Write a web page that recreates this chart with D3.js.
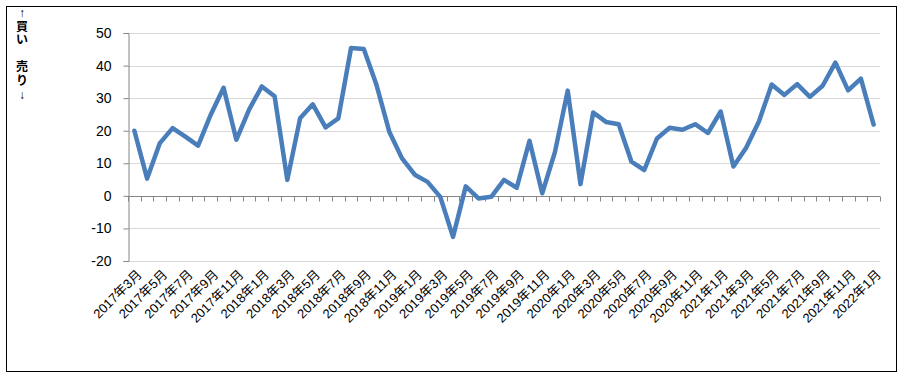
<!DOCTYPE html>
<html><head><meta charset="utf-8">
<script src="https://cdn.jsdelivr.net/npm/d3@7"></script>
<style>
body{margin:0;background:#fff;}
svg text{font-family:"Liberation Sans","Noto Sans CJK JP",sans-serif;}
</style></head>
<body><svg id="c" width="904" height="378"></svg>
<script>
const months = [];
(function(){ let yy=2017,m=3; for(let i=0;i<59;i++){ months.push(yy+"年"+m+"月"); m++; if(m>12){m=1;yy++;} } })();
const values = [20,5.3,16.2,20.8,18.2,15.4,25,33.2,17.2,26.5,33.6,30.6,4.9,23.8,28.1,21,23.8,45.4,45.1,34,19.7,11.5,6.5,4.3,-0.3,-12.6,2.9,-0.8,-0.3,4.9,2.5,16.9,0.8,13.5,32.3,3.6,25.6,22.7,22,10.5,7.9,17.6,20.9,20.3,22,19.3,25.9,9,14.8,22.8,34.2,31,34.3,30.4,33.8,40.9,32.4,36,21.9];
const yTicks = [-20,-10,0,10,20,30,40,50];

(function(){
const svg = d3.select("#c");
svg.append("rect").attr("x",6.5).attr("y",6.5).attr("width",890).attr("height",365)
  .attr("fill","#fff").attr("stroke","#000").attr("stroke-width",1);

const pL=128, pR=880, pT=33, pB=261;
const x = d3.scaleBand().domain(months).range([pL,pR]);
const y = d3.scaleLinear().domain([-20,50]).range([pB,pT]);

svg.append("g").selectAll("line").data(yTicks).join("line")
  .attr("x1",pL).attr("x2",pR)
  .attr("y1",d=>Math.round(y(d))+0.5).attr("y2",d=>Math.round(y(d))+0.5)
  .attr("stroke","#D9D9D9").attr("stroke-width",1);

const ya = svg.append("g").attr("transform",`translate(${pL+0.5},0)`)
  .call(d3.axisLeft(y).tickValues(yTicks).tickSize(5).tickPadding(12).tickFormat(d=>String(d)));
ya.select(".domain").attr("stroke","#868686");
ya.selectAll(".tick line").attr("stroke","#868686");
ya.selectAll(".tick text").attr("font-size",14).attr("fill","#000")
  .attr("font-family","'Liberation Sans',sans-serif");

const y0 = Math.round(y(0))+0.5;
const bounds = months.map(m=>x(m)).concat([pR]);
svg.append("line").attr("x1",pL).attr("x2",pR).attr("y1",y0).attr("y2",y0)
  .attr("stroke","#868686").attr("stroke-width",1);
svg.append("g").selectAll("line").data(bounds).join("line")
  .attr("x1",d=>Math.round(d)+0.5).attr("x2",d=>Math.round(d)+0.5)
  .attr("y1",y0).attr("y2",y0+5).attr("stroke","#868686");

svg.append("g").selectAll("text").data(months.filter((m,i)=>i%2===0)).join("text")
  .attr("transform",d=>`translate(${x(d)+x.bandwidth()/2+5},${pB+11}) rotate(-45)`)
  .attr("text-anchor","end").attr("dy","0.35em")
  .attr("font-size",13).attr("fill","#000").text(d=>d);

const line = d3.line().x((d,i)=>x(months[i])+x.bandwidth()/2).y(d=>y(d));
svg.append("path").datum(values).attr("d",line).attr("fill","none")
  .attr("stroke","#4A7EBB").attr("stroke-width",4.5).attr("stroke-linejoin","round").attr("stroke-linecap","round");

const lab = ["↑","買","い","","売","り","↓"];
const lys = [17,31,44,0,71,85,99];
svg.append("g").selectAll("text").data(lab).join("text")
  .attr("x",22).attr("y",(d,i)=>lys[i]).attr("text-anchor","middle")
  .attr("font-size",12).attr("font-weight","bold").attr("fill","#000")
  .attr("font-family",(d,i)=>(i===0||i===6)?"'DejaVu Sans',sans-serif":"'Noto Sans CJK JP',sans-serif")
  .text(d=>d);
})();
</script></body></html>
